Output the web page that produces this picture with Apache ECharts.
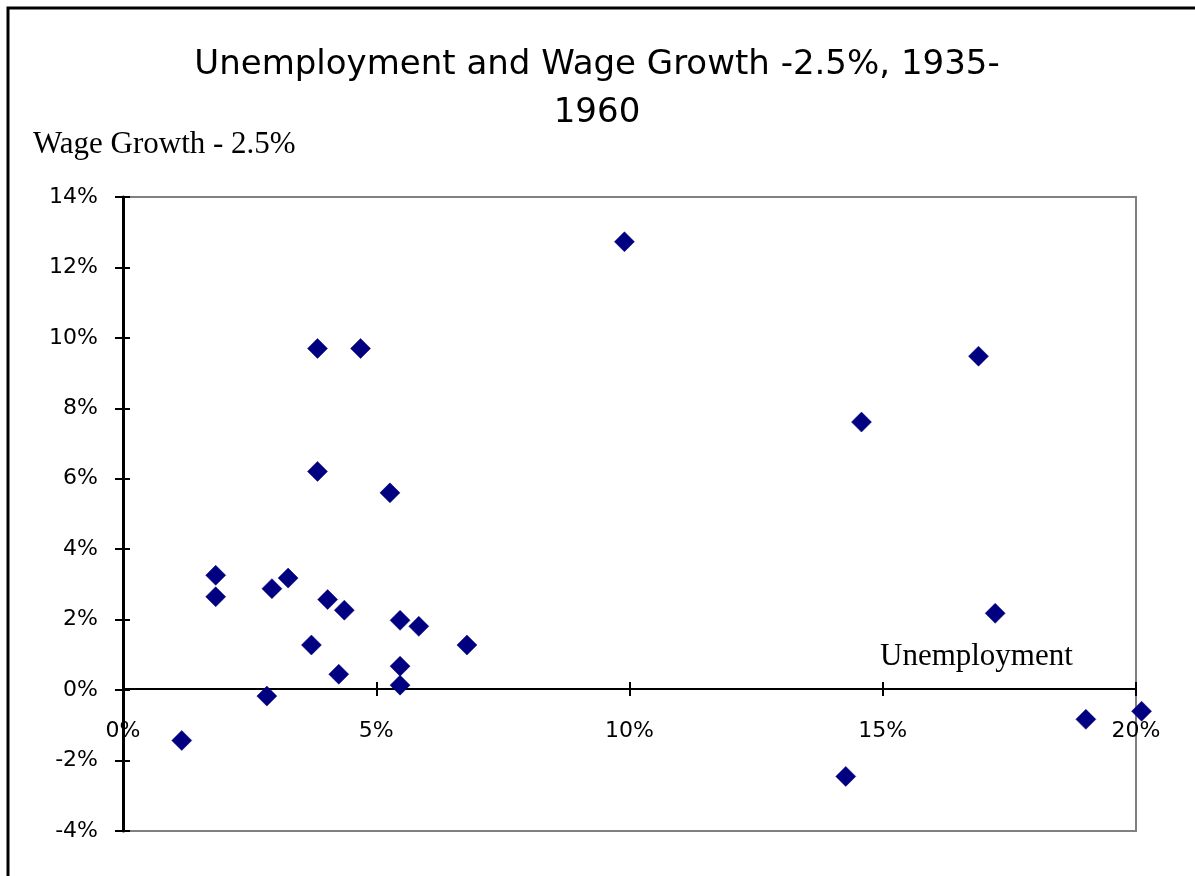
<!DOCTYPE html>
<html style="height: 100%">
<head>
    <meta charset="utf-8">
    <script type="text/javascript" src="https://cdn.jsdelivr.net/npm/echarts@6/dist/echarts.min.js"></script>
</head>
<body style="height: 100%; margin: 0; background: #fff">
<div id="container" style="width: 1195px; height: 876px"></div>
<script type="text/javascript">
    // unemployment rate (%) and wage growth minus 2.5 (%), one point per year 1935-1960
    var unemployment = [1.16, 1.83, 1.83, 2.84, 2.94, 3.26, 3.72, 3.84, 3.84, 4.04, 4.26, 4.37, 4.69,
        5.27, 5.47, 5.47, 5.47, 5.84, 6.79, 9.90, 14.27, 14.58, 16.89, 17.22, 19.01, 20.11];
    var wageGrowth = [-1.43, 3.26, 2.65, -0.17, 2.88, 3.18, 1.28, 9.70, 6.21, 2.57, 0.45, 2.27, 9.70,
        5.60, 1.98, 0.68, 0.14, 1.81, 1.28, 12.73, -2.45, 7.61, 9.48, 2.18, -0.83, -0.60];
    var xTicks = [0, 5, 10, 15, 20];
    var yTicks = [-4, -2, 0, 2, 4, 6, 8, 10, 12, 14];

    var points = [];
    for (var i = 0; i < unemployment.length; i++) {
        points.push([unemployment[i], wageGrowth[i]]);
    }

    var dom = document.getElementById('container');
    var myChart = echarts.init(dom, null, {renderer: 'canvas'});

    var tickFont = {color: '#000', fontFamily: 'DejaVu Sans', fontSize: 22};
    var xMin = xTicks[0], xMax = xTicks[xTicks.length - 1];
    var yMin = yTicks[0], yMax = yTicks[yTicks.length - 1];

    var option = {
        animation: false,
        backgroundColor: '#fff',
        title: {
            text: 'Unemployment and Wage Growth -2.5%, 1935-\n1960',
            left: 592,
            top: 36,
            textAlign: 'center',
            textStyle: {
                fontFamily: 'DejaVu Sans',
                fontWeight: 'normal',
                fontSize: 34,
                lineHeight: 48,
                color: '#000'
            }
        },
        graphic: [
            {
                type: 'rect',
                shape: {x: 8, y: 8, width: 1300, height: 1000},
                style: {fill: 'none', stroke: '#000', lineWidth: 3},
                silent: true
            },
            {
                type: 'text',
                left: 33,
                top: 129,
                style: {text: 'Wage Growth - 2.5%', font: '31px "Liberation Serif"', fill: '#000'}
            },
            {
                type: 'text',
                left: 880,
                top: 641,
                style: {text: 'Unemployment', font: '31px "Liberation Serif"', fill: '#000'}
            }
        ],
        grid: [
            // plot area with grey frame
            {
                left: 123, right: 59, top: 197, bottom: 45,
                show: true, borderColor: '#808080', borderWidth: 2,
                outerBoundsMode: 'none'
            },
            // upper part down to the zero line, carries the x axis that crosses at 0%
            {
                left: 123, right: 59, top: 197, bottom: 187,
                show: false,
                outerBoundsMode: 'none'
            }
        ],
        xAxis: [
            {
                type: 'value', gridIndex: 0, min: xMin, max: xMax, interval: 5,
                show: false
            },
            {
                type: 'value', gridIndex: 1, position: 'bottom', min: xMin, max: xMax, interval: 5,
                axisLine: {onZero: false, lineStyle: {color: '#000', width: 2}},
                axisTick: {length: 7, lineStyle: {color: '#000', width: 2}},
                axisLabel: Object.assign({margin: 31, formatter: '{value}%'}, tickFont),
                splitLine: {show: false}
            },
            {
                type: 'value', gridIndex: 1, position: 'bottom', min: xMin, max: xMax, interval: 5,
                axisLine: {show: false, onZero: false},
                axisTick: {inside: true, length: 7, lineStyle: {color: '#000', width: 2}},
                axisLabel: {show: false},
                splitLine: {show: false}
            }
        ],
        yAxis: [
            {
                type: 'value', gridIndex: 0, min: yMin, max: yMax, interval: 2,
                axisLine: {show: true, onZero: false, lineStyle: {color: '#000', width: 3}},
                axisTick: {show: true, length: 8, lineStyle: {color: '#000', width: 2}},
                axisLabel: Object.assign({margin: 25, formatter: '{value}%'}, tickFont),
                splitLine: {show: false}
            },
            {
                type: 'value', gridIndex: 0, position: 'left', min: yMin, max: yMax, interval: 2,
                axisLine: {show: false, onZero: false},
                axisTick: {show: true, inside: true, length: 7, lineStyle: {color: '#000', width: 2}},
                axisLabel: {show: false},
                splitLine: {show: false}
            },
            {
                type: 'value', gridIndex: 1, min: 0, max: yMax, show: false
            }
        ],
        series: [
            {
                name: 'Wage growth',
                type: 'scatter',
                xAxisIndex: 0,
                yAxisIndex: 0,
                clip: false,
                symbol: 'diamond',
                symbolSize: 20,
                itemStyle: {color: '#000080', borderColor: '#000080', borderWidth: 0.5, opacity: 1},
                data: points
            }
        ]
    };

    myChart.setOption(option);
    window.addEventListener('resize', myChart.resize);
</script>
</body>
</html>
